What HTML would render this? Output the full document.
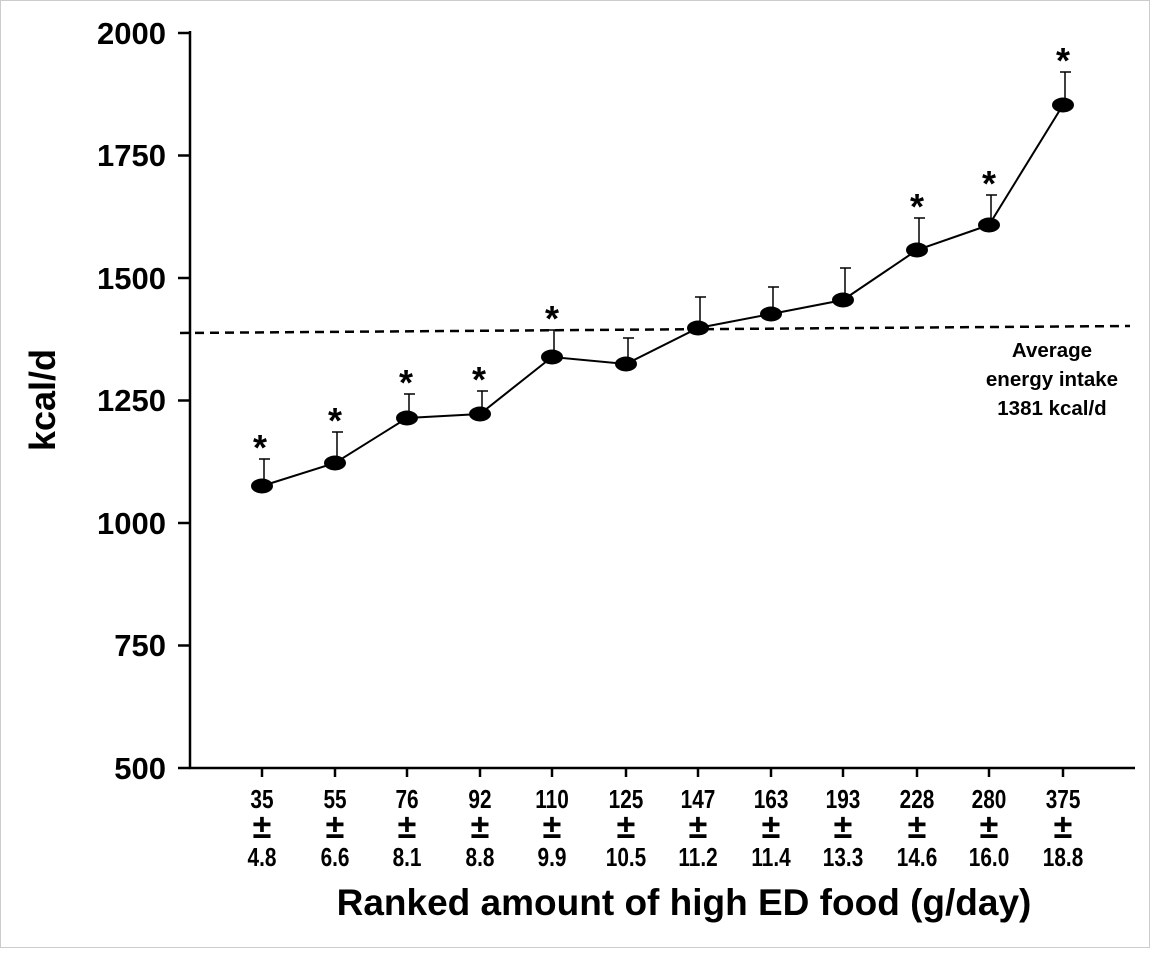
<!DOCTYPE html>
<html><head><meta charset="utf-8"><style>
body{margin:0;background:#fff}
svg text{font-family:"Liberation Sans",Arial,sans-serif;font-weight:bold;fill:#000}
</style></head><body>
<svg width="1150" height="948" viewBox="0 0 1150 948">
<rect x="0.5" y="0.5" width="1149" height="947" fill="#fff" stroke="#ccc"/>
<g stroke="#000" stroke-width="2.5" fill="none">
<line x1="190" y1="31" x2="190" y2="768"/>
<line x1="189" y1="768" x2="1135" y2="768"/>
<line x1="178" y1="33" x2="190" y2="33"/>
<line x1="178" y1="155.5" x2="190" y2="155.5"/>
<line x1="178" y1="278" x2="190" y2="278"/>
<line x1="178" y1="400.5" x2="190" y2="400.5"/>
<line x1="178" y1="523" x2="190" y2="523"/>
<line x1="178" y1="645.5" x2="190" y2="645.5"/>
<line x1="178" y1="768" x2="190" y2="768"/>
<line x1="262" y1="768" x2="262" y2="777"/><line x1="335" y1="768" x2="335" y2="777"/>
<line x1="407" y1="768" x2="407" y2="777"/><line x1="480" y1="768" x2="480" y2="777"/>
<line x1="552" y1="768" x2="552" y2="777"/><line x1="626" y1="768" x2="626" y2="777"/>
<line x1="698" y1="768" x2="698" y2="777"/><line x1="771" y1="768" x2="771" y2="777"/>
<line x1="843" y1="768" x2="843" y2="777"/><line x1="917" y1="768" x2="917" y2="777"/>
<line x1="989" y1="768" x2="989" y2="777"/><line x1="1063" y1="768" x2="1063" y2="777"/>
</g>
<g font-size="31" text-anchor="end">
<text x="166" y="44">2000</text><text x="166" y="166">1750</text><text x="166" y="289">1500</text>
<text x="166" y="411">1250</text><text x="166" y="534">1000</text><text x="166" y="656">750</text><text x="166" y="779">500</text>
</g>
<text transform="translate(55,400) rotate(-90)" font-size="36" text-anchor="middle">kcal/d</text>
<line x1="180" y1="333" x2="1130" y2="326" stroke="#000" stroke-width="2.5" stroke-dasharray="9,6"/>
<g font-size="20.5" text-anchor="middle"><text x="1052" y="357">Average</text><text x="1052" y="386">energy intake</text><text x="1052" y="415">1381 kcal/d</text></g>
<g stroke="#000" stroke-width="1.5">
<path d="M264 486V459M259 459H270"/>
<path d="M337 463V432M332 432H343"/>
<path d="M409 418V394M404 394H415"/>
<path d="M482 414V391M477 391H488"/>
<path d="M554 357V330M549 330H560"/>
<path d="M628 364V338M623 338H634"/>
<path d="M700 328V297M695 297H706"/>
<path d="M773 314V287M768 287H779"/>
<path d="M845 300V268M840 268H851"/>
<path d="M919 250V218M914 218H925"/>
<path d="M991 225V195M986 195H997"/>
<path d="M1065 105V72M1060 72H1071"/>
</g>
<polyline points="262,486 335,463 407,418 480,414 552,357 626,364 698,328 771,314 843,300 917,250 989,225 1063,105" fill="none" stroke="#000" stroke-width="2"/>
<g fill="#000">
<ellipse cx="262" cy="486" rx="11" ry="7.5"/><ellipse cx="335" cy="463" rx="11" ry="7.5"/>
<ellipse cx="407" cy="418" rx="11" ry="7.5"/><ellipse cx="480" cy="414" rx="11" ry="7.5"/>
<ellipse cx="552" cy="357" rx="11" ry="7.5"/><ellipse cx="626" cy="364" rx="11" ry="7.5"/>
<ellipse cx="698" cy="328" rx="11" ry="7.5"/><ellipse cx="771" cy="314" rx="11" ry="7.5"/>
<ellipse cx="843" cy="300" rx="11" ry="7.5"/><ellipse cx="917" cy="250" rx="11" ry="7.5"/>
<ellipse cx="989" cy="225" rx="11" ry="7.5"/><ellipse cx="1063" cy="105" rx="11" ry="7.5"/>
</g>
<g font-size="36" text-anchor="middle">
<text x="260" y="460">*</text><text x="335" y="433">*</text><text x="406" y="395">*</text>
<text x="479" y="392">*</text><text x="552" y="331">*</text><text x="917" y="219">*</text>
<text x="989" y="196">*</text><text x="1063" y="73">*</text>
</g>
<g font-size="26" text-anchor="middle" transform="scale(0.8,1)">
<text x="327.5" y="808">35</text><text x="418.8" y="808">55</text><text x="508.8" y="808">76</text>
<text x="600" y="808">92</text><text x="690" y="808">110</text><text x="782.5" y="808">125</text>
<text x="872.5" y="808">147</text><text x="963.8" y="808">163</text><text x="1053.8" y="808">193</text>
<text x="1146.3" y="808">228</text><text x="1236.3" y="808">280</text><text x="1328.8" y="808">375</text>
<text x="327.5" y="866">4.8</text><text x="418.8" y="866">6.6</text><text x="508.8" y="866">8.1</text>
<text x="600" y="866">8.8</text><text x="690" y="866">9.9</text><text x="782.5" y="866">10.5</text>
<text x="872.5" y="866">11.2</text><text x="963.8" y="866">11.4</text><text x="1053.8" y="866">13.3</text>
<text x="1146.3" y="866">14.6</text><text x="1236.3" y="866">16.0</text><text x="1328.8" y="866">18.8</text>
</g>
<g font-size="34" text-anchor="middle" style="font-weight:normal">
<text x="262" y="838">±</text><text x="335" y="838">±</text><text x="407" y="838">±</text>
<text x="480" y="838">±</text><text x="552" y="838">±</text><text x="626" y="838">±</text>
<text x="698" y="838">±</text><text x="771" y="838">±</text><text x="843" y="838">±</text>
<text x="917" y="838">±</text><text x="989" y="838">±</text><text x="1063" y="838">±</text>
</g>
<text x="684" y="915" font-size="37" text-anchor="middle">Ranked amount of high ED food (g/day)</text>
</svg>
</body></html>
